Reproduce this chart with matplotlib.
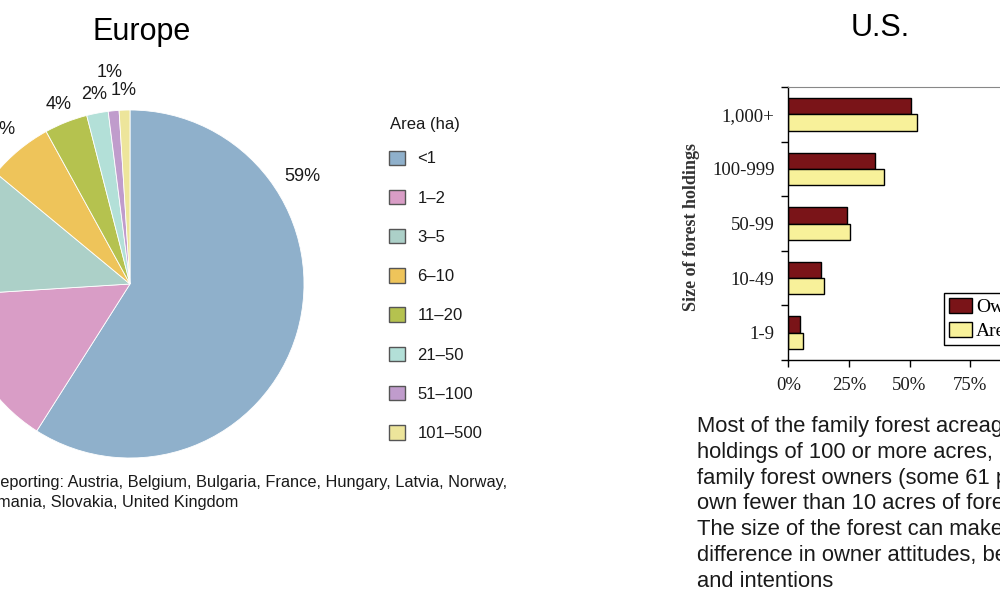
import matplotlib
matplotlib.use("Agg")
import matplotlib.pyplot as plt
from matplotlib.patches import Patch
import numpy as np

# ---------------- data ----------------
eu_classes = ["<1", "1\u20132", "3\u20135", "6\u201310", "11\u201320", "21\u201350", "51\u2013100", "101\u2013500"]
eu_shares = [59, 15, 12, 6, 4, 2, 1, 1]
eu_colors = ["#8fb0cb", "#d99dc6", "#acd0c8", "#eec45a", "#b5c24f", "#b3e0d8", "#c09ccc", "#ede59b"]

us_sizes = ["1-9", "10-49", "50-99", "100-999", "1,000+"]
us_owners = [5.0, 13.5, 24.3, 35.8, 50.5]
us_area = [6.2, 14.9, 25.6, 39.5, 53.2]
us_ticks = [0, 25, 50, 75, 100]
us_ticklabels = ["0%", "25%", "50%", "75%", "100%"]

footer_lines = ["Countries reporting: Austria, Belgium, Bulgaria, France, Hungary, Latvia, Norway,",
                "Romania, Slovakia, United Kingdom"]
paragraph = ("Most of the family forest acreage is in\n"
             "holdings of 100 or more acres, but most\n"
             "family forest owners (some 61 percent)\n"
             "own fewer than 10 acres of forest land.\n"
             "The size of the forest can make a big\n"
             "difference in owner attitudes, behaviors,\n"
             "and intentions")

# ---------------- figure ----------------
W, H = 1000, 600
fig = plt.figure(figsize=(W / 100, H / 100), dpi=100)
SANS = ["Liberation Sans", "DejaVu Sans"]
SERIF = ["Liberation Serif", "DejaVu Serif"]
TXT = "#1a1a1a"

def fx(px):
    return px / W

def fy(py):
    return 1 - py / H

# ---- Europe pie ----
cx, cy, R = 130, 284, 174
axp = fig.add_axes([fx(cx - R), fy(cy + R), 2 * R / W, 2 * R / H])
wedges, _ = axp.pie(eu_shares, colors=eu_colors, startangle=90, counterclock=False,
                    wedgeprops=dict(linewidth=0.6, edgecolor="white"))
axp.set_xlim(-1, 1)
axp.set_ylim(-1, 1)
axp.set_aspect("equal")
axp.axis("off")

label_r = [1.17, 1.1, 1.1, 1.15, 1.11, 1.11, 1.22, 1.11]
for i, w in enumerate(wedges):
    ang = 0.5 * (w.theta1 + w.theta2)
    if i == 0:
        ang = 32.0
    r = label_r[i]
    axp.text(r * np.cos(np.radians(ang)), r * np.sin(np.radians(ang)), f"{eu_shares[i]}%",
             ha="center", va="center", fontsize=13, family=SANS, color=TXT, clip_on=False)

fig.text(fx(142), fy(32), "Europe", ha="center", va="center", fontsize=22, family=SANS, color="black")

fig.text(fx(390), fy(124), "Area (ha)", ha="left", va="center", fontsize=12, family=SANS, color=TXT)
handles = [Patch(facecolor=c, edgecolor="#555555", linewidth=1.0) for c in eu_colors]
leg = fig.legend(handles, eu_classes, loc="upper left",
                 bbox_to_anchor=(fx(389), fy(150.5)), frameon=False,
                 prop=dict(family=SANS, size=12),
                 borderpad=0, borderaxespad=0, handlelength=0.95, handleheight=0.95,
                 handletextpad=0.75, labelspacing=1.4)
for t in leg.get_texts():
    t.set_color(TXT)

fig.text(fx(507), fy(482), footer_lines[0], ha="right", va="center", fontsize=11.8, family=SANS, color=TXT)
fig.text(fx(238), fy(503), footer_lines[1], ha="right", va="center", fontsize=11.8, family=SANS, color=TXT)

# ---- U.S. bar chart ----
x0, x100 = 788.3, 1030.7
ytop, ybot = 87, 360
axb = fig.add_axes([fx(x0), fy(ybot), (x100 - x0) / W, (ybot - ytop) / H])
pos = np.arange(len(us_sizes))
bh = 0.3
axb.barh(pos + bh / 2, us_owners, height=bh, color="#7a1418", edgecolor="black", linewidth=1.0, label="Owners")
axb.barh(pos - bh / 2, us_area, height=bh, color="#f8f19a", edgecolor="black", linewidth=1.0, label="Area")
axb.set_xlim(0, 100)
axb.set_ylim(-0.5, len(us_sizes) - 0.5)
axb.set_yticks(pos)
axb.set_yticklabels(us_sizes, family=SERIF, fontsize=13.5, color=TXT)
axb.set_yticks(np.arange(-0.5, len(us_sizes)), minor=True)
axb.tick_params(axis="y", which="major", length=0, pad=10)
axb.tick_params(axis="y", which="minor", length=5, width=1, direction="out")
axb.set_xticks(us_ticks)
axb.set_xticklabels(us_ticklabels, family=SERIF, fontsize=13.5, color=TXT)
axb.tick_params(axis="x", length=5, width=1, direction="out", pad=7)
axb.spines["top"].set_color("#888888")
axb.spines["right"].set_color("#888888")
axb.spines["left"].set_linewidth(1.0)
axb.spines["bottom"].set_linewidth(1.0)
axb.set_ylabel("Size of forest holdings", family=SERIF, fontsize=13, fontweight="bold", color="#333333")
axb.yaxis.set_label_coords((700 - x0) / (x100 - x0), (360 - 227) / (ybot - ytop))
lg = axb.legend(loc="upper left", bbox_to_anchor=((944 - x0) / (x100 - x0), (ybot - 293) / (ybot - ytop)),
                prop=dict(family=SERIF, size=14), frameon=True, fancybox=False, edgecolor="black",
                framealpha=1, borderaxespad=0, borderpad=0.25, handlelength=1.2, handleheight=0.8,
                handletextpad=0.2, labelspacing=0.3)
lg.get_frame().set_linewidth(1.0)

fig.text(fx(880), fy(28), "U.S.", ha="center", va="center", fontsize=22, family=SANS, color="black")

fig.text(fx(697), fy(416), paragraph, ha="left", va="top", fontsize=15.8, family=SANS,
         color=TXT, linespacing=1.30)

fig.savefig("out.png", dpi=100)
